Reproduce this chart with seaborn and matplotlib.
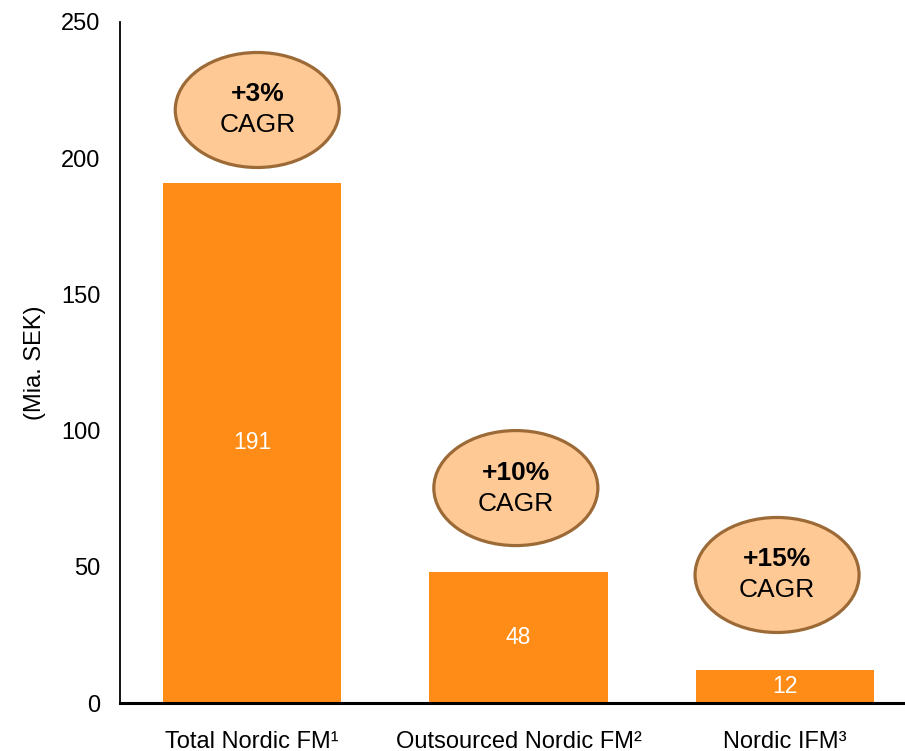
import matplotlib
matplotlib.use("Agg")
import matplotlib.pyplot as plt
from matplotlib.patches import Ellipse
import seaborn as sns
import pandas as pd

# ---- data ----
categories = ["Total Nordic FM\u00b9", "Outsourced Nordic FM\u00b2", "Nordic IFM\u00b3"]
values = [191, 48, 12]
cagr_labels = ["+3%", "+10%", "+15%"]
y_ticks = [0, 50, 100, 150, 200, 250]
y_label = "(Mia. SEK)"

# ---- layout (annotation placement, not data) ----
ellipse_centers_y = [217.7, 78.9, 47.0]
ellipse_dx = [0.02, -0.01, -0.03]

sns.set_style("white")
plt.rcParams['font.family'] = ['Liberation Sans', 'DejaVu Sans']

df = pd.DataFrame({"category": categories, "value": values})

fig = plt.figure(figsize=(9.05, 7.51), dpi=100)
ax = fig.add_axes([120 / 905, 1 - 703 / 751, 1 - 120 / 905, (703 - 22) / 751])

bar_color = "#FF8C16"
sns.barplot(data=df, x="category", y="value", color=bar_color, saturation=1,
            width=0.668, ax=ax, edgecolor="none")

ax.set_xlim(-0.495, 2.45)
ax.set_ylim(0, 250)
ax.set_yticks(y_ticks)
ax.set_xlabel("")
ax.set_ylabel(y_label, fontsize=17, labelpad=11, color="black")

ax.tick_params(axis="y", length=0, pad=14, labelsize=17, labelcolor="black")
ax.tick_params(axis="x", length=0, pad=20, labelsize=17, labelcolor="black")

for s in ["top", "right"]:
    ax.spines[s].set_visible(False)
ax.spines["left"].set_color("#000000")
ax.spines["left"].set_linewidth(1.3)
ax.spines["bottom"].set_color("#000000")
ax.spines["bottom"].set_linewidth(2.2)

# value labels inside bars
for i, v in enumerate(values):
    ax.text(i, v / 2, str(v), ha="center", va="center", color="white", fontsize=16.5)

# CAGR ellipses
ew = 164 / 266.5
eh = 115 / 2.724
for i, lab in enumerate(cagr_labels):
    cx = i + ellipse_dx[i]
    cy = ellipse_centers_y[i]
    e = Ellipse((cx, cy), ew, eh, facecolor="#FFC996", edgecolor="#9C6A37",
                linewidth=2.3, zorder=5, clip_on=False)
    ax.add_patch(e)
    ax.text(cx, cy + 15.5 / 2.724, lab, ha="center", va="center", fontsize=19,
            fontweight="bold", color="black", zorder=6)
    ax.text(cx, cy - 15.5 / 2.724, "CAGR", ha="center", va="center", fontsize=19,
            color="black", zorder=6)

fig.savefig("out.png", dpi=100)
